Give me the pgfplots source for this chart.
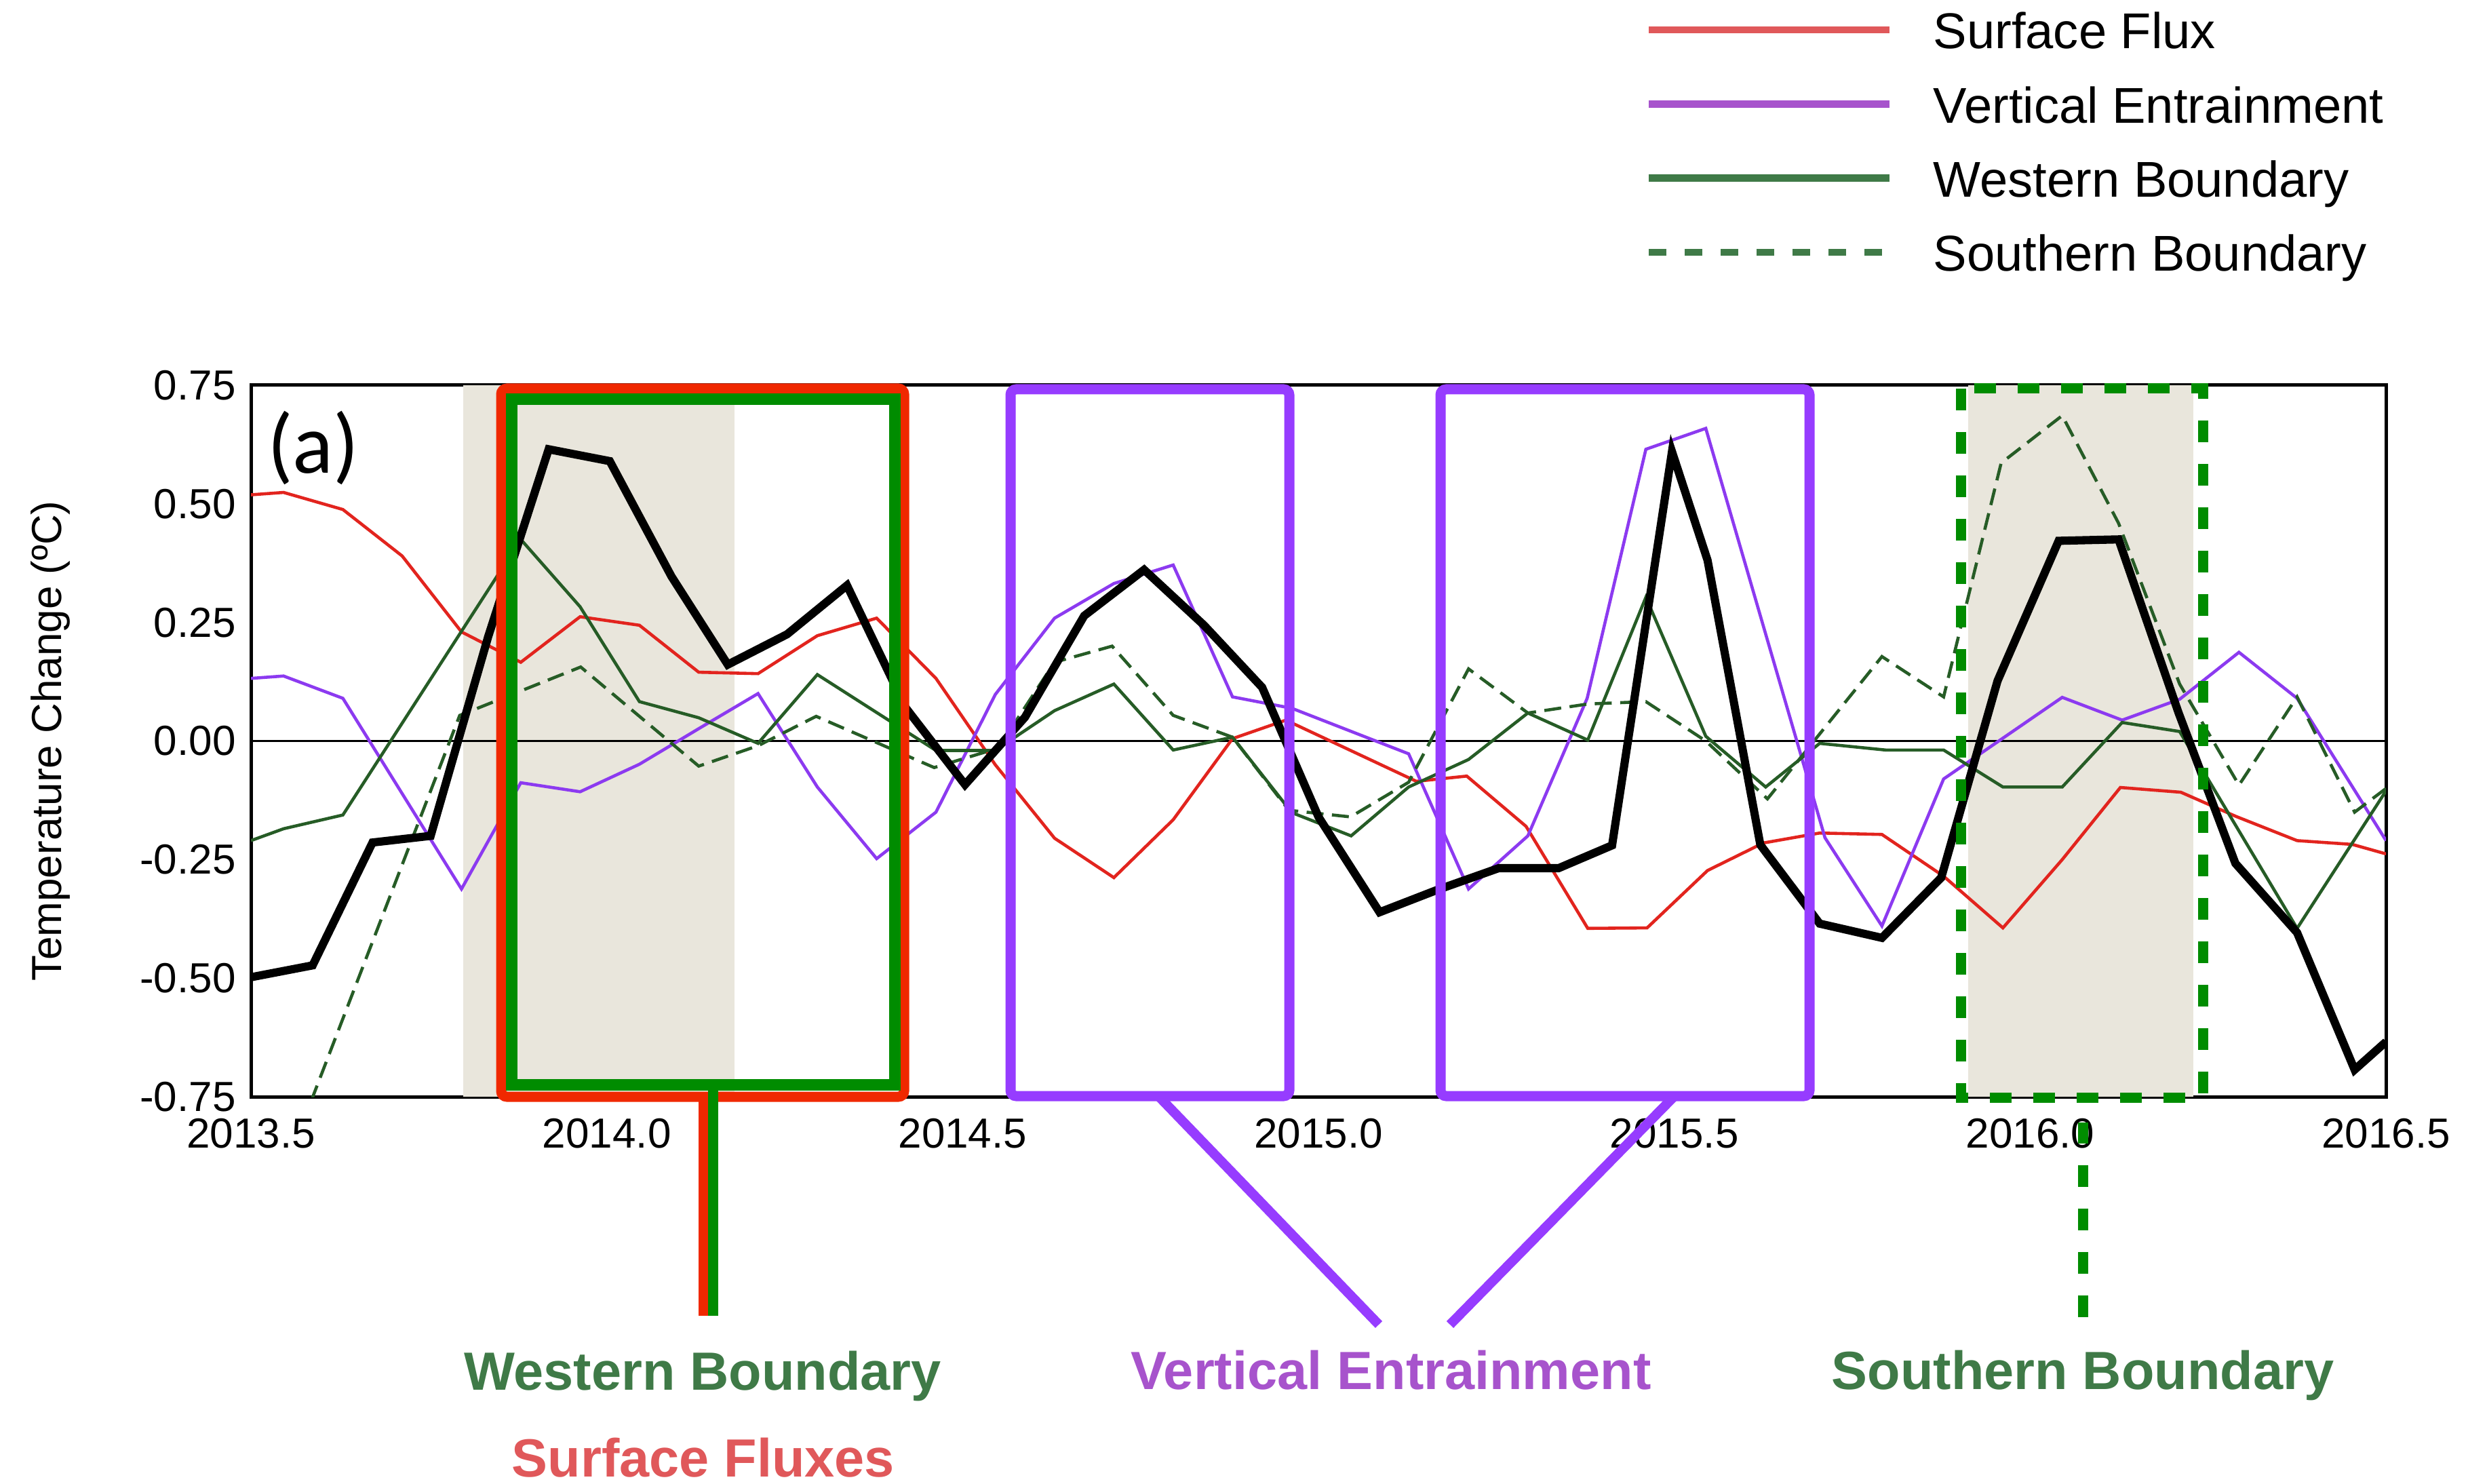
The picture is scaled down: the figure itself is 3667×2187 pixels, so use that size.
\documentclass[border=0pt]{standalone}
\usepackage{fontspec}
\setmainfont{Liberation Sans}
\newfontfamily\calibri{Carlito}
\usepackage{pgfplots}
\pgfplotsset{compat=1.18}

% plot colours
\definecolor{sfline}{RGB}{226,36,30}
\definecolor{veline}{RGB}{140,58,240}
\definecolor{wbline}{RGB}{38,92,38}
\definecolor{shade}{RGB}{233,230,220}
% legend / annotation colours
\definecolor{legred}{RGB}{224,88,90}
\definecolor{legpurple}{RGB}{167,83,204}
\definecolor{leggreen}{RGB}{63,122,71}
\definecolor{boxred}{RGB}{240,40,0}
\definecolor{boxgreen}{RGB}{0,140,0}
\definecolor{boxpurple}{RGB}{150,60,255}

\begin{document}
\begin{tikzpicture}
\begin{axis}[
  at={(0pt,0pt)}, anchor=south west,
  scale only axis, width=377.76pt, height=125.88pt,
  xmin=0, xmax=36, ymin=-0.75, ymax=0.75,
  xtick={0,6,12,18,24,30,36},
  xticklabels={2013.5,2014.0,2014.5,2015.0,2015.5,2016.0,2016.5},
  ytick={-0.75,-0.5,-0.25,0,0.25,0.5,0.75},
  yticklabels={-0.75,-0.50,-0.25,0.00,0.25,0.50,0.75},
  major tick length=0pt,
  tick label style={font=\fontsize{7.44}{8}\selectfont, inner sep=0pt},
  xticklabel style={yshift=-3.6pt},
  yticklabel style={xshift=-2.5pt},
  axis line style={line width=0.6pt},
  ylabel={Temperature Change (ºC)},
  ylabel style={at={(axis description cs:-0.094,0.5)}, anchor=center,
                font=\fontsize{7.44}{8}\selectfont},
]
% shaded periods
\addplot[fill=shade, draw=none, forget plot] coordinates {(3.58,-0.75) (8.15,-0.75) (8.15,0.75) (3.58,0.75)} -- cycle;
\addplot[fill=shade, draw=none, forget plot] coordinates {(28.95,-0.75) (32.75,-0.75) (32.75,0.75) (28.95,0.75)} -- cycle;
% zero line
\addplot[black, line width=0.4pt, forget plot] coordinates {(0,0) (36,0)};

% surface flux
\addplot[sfline, line width=0.55pt] coordinates {
 (0,0.519) (0.55,0.524) (1.55,0.488) (2.55,0.39) (3.55,0.23) (4.55,0.166)
 (5.55,0.262) (6.55,0.244) (7.55,0.145) (8.55,0.142) (9.55,0.222) (10.55,0.259)
 (11.55,0.132) (12.55,-0.05) (13.55,-0.205) (14.55,-0.288) (15.55,-0.166)
 (16.55,0.005) (17.45,0.044) (19.65,-0.085) (20.5,-0.074) (21.5,-0.18)
 (22.54,-0.395) (23.54,-0.394) (24.56,-0.273) (25.5,-0.215) (26.45,-0.194)
 (27.5,-0.197) (28.54,-0.285) (29.54,-0.394) (30.54,-0.25) (31.52,-0.098)
 (32.54,-0.108) (33.47,-0.159) (34.5,-0.21) (35.43,-0.218) (36,-0.238)};
% vertical entrainment
\addplot[veline, line width=0.55pt] coordinates {
 (0,0.132) (0.55,0.137) (1.55,0.09) (3.55,-0.312) (4.55,-0.088) (5.55,-0.107)
 (6.55,-0.049) (7.55,0.026) (8.55,0.10) (9.55,-0.097) (10.55,-0.248)
 (11.55,-0.15) (12.55,0.098) (13.55,0.259) (14.55,0.332) (15.55,0.371)
 (16.55,0.093) (17.55,0.069) (19.52,-0.027) (20.53,-0.312) (21.53,-0.2)
 (22.53,0.09) (23.52,0.615) (24.53,0.659) (26.54,-0.204) (27.5,-0.39)
 (28.54,-0.08) (30.54,0.092) (31.55,0.044) (32.52,0.088) (33.52,0.187)
 (34.5,0.09) (36,-0.21)};
% western boundary
\addplot[wbline, line width=0.55pt] coordinates {
 (0,-0.21) (0.55,-0.185) (1.55,-0.156) (4.55,0.425) (5.55,0.283) (6.55,0.083)
 (7.55,0.049) (8.55,-0.005) (9.55,0.14) (10.55,0.06) (11.55,-0.02)
 (12.55,-0.02) (13.55,0.064) (14.55,0.12) (15.55,-0.019) (16.55,0.008)
 (17.55,-0.151) (18.55,-0.2) (19.52,-0.097) (20.53,-0.039) (21.53,0.059)
 (22.54,0.002) (23.52,0.303) (24.53,0.01) (25.54,-0.097) (26.45,-0.005)
 (27.56,-0.019) (28.54,-0.019) (29.54,-0.097) (30.54,-0.097) (31.55,0.039)
 (32.52,0.02) (34.5,-0.395) (36,-0.105)};
% southern boundary
\addplot[wbline, line width=0.55pt, dash pattern=on 3pt off 1.5pt] coordinates {
 (0.55,-0.91) (3.52,0.054) (5.56,0.156) (7.55,-0.053) (8.55,-0.01) (9.53,0.052)
 (11.52,-0.056) (12.6,-0.015) (13.55,0.166) (14.52,0.20) (15.55,0.054)
 (16.55,0.008) (17.5,-0.146) (18.54,-0.16) (19.52,-0.087) (20.53,0.152)
 (21.53,0.059) (22.54,0.078) (23.52,0.083) (24.53,0.0) (25.57,-0.122)
 (27.5,0.178) (28.54,0.093) (29.51,0.586) (30.54,0.686) (31.49,0.459)
 (32.52,0.12) (33.52,-0.093) (34.5,0.093) (35.47,-0.15) (36,-0.1)};
% total
\addplot[black, line width=1.45pt] coordinates {
 (0,-0.498) (1.04,-0.473) (2.05,-0.214) (3.03,-0.20) (4.0,0.22) (5.02,0.615)
 (6.05,0.59) (7.09,0.347) (8.04,0.161) (9.04,0.225) (10.05,0.328) (11.04,0.07)
 (12.04,-0.092) (13.05,0.05) (14.05,0.264) (15.06,0.361) (16.07,0.244)
 (17.05,0.113) (18.0,-0.16) (19.03,-0.361) (20.0,-0.314) (21.04,-0.268)
 (22.05,-0.268) (22.95,-0.22) (23.96,0.61) (24.56,0.381) (25.45,-0.219)
 (26.45,-0.385) (27.5,-0.415) (28.5,-0.288) (29.45,0.127) (30.48,0.422)
 (31.49,0.425) (32.5,0.06) (33.46,-0.258) (34.5,-0.404) (35.47,-0.693)
 (36,-0.634)};

\node[font=\calibri\fontsize{15}{16}\selectfont] at (axis description cs:0.0292,0.912) {(a)};
\end{axis}

% annotations, in pixels of the 3667 x 2187 canvas
\begin{scope}[shift={(-44.4pt,194.04pt)}, x=0.12pt, y=-0.12pt]
  % western boundary / surface fluxes
  \draw[boxred, line width=1.8pt, rounded corners=1pt] (739,573) rectangle (1333,1617);
  \draw[boxgreen, line width=2.04pt] (754,589) rectangle (1319,1599);
  \draw[boxred, line width=1.68pt] (1037,1617) -- (1037,1940);
  \draw[boxgreen, line width=1.8pt] (1051,1599) -- (1051,1940);
  % vertical entrainment
  \draw[boxpurple, line width=1.8pt, rounded corners=1pt] (1490,574) rectangle (1901,1616);
  \draw[boxpurple, line width=1.8pt, rounded corners=1pt] (2124,574) rectangle (2668,1616);
  \draw[boxpurple, line width=1.7pt] (1708,1616) -- (2033,1953);
  \draw[boxpurple, line width=1.7pt] (2469,1616) -- (2138,1953);
  % southern boundary
  \draw[boxgreen, line width=1.8pt, dash pattern=on 3.84pt off 3.84pt] (2891,573) rectangle (3248,1618);
  \draw[boxgreen, line width=1.8pt, dash pattern=on 3.84pt off 3.84pt] (3071,1942) -- (3071,1655);

  \begin{scope}[font=\bfseries\fontsize{9.52}{11}\selectfont]
    \node[anchor=base, text=leggreen] at (1036,2049) {Western Boundary};
    \node[anchor=base, text=legred] at (1037,2177) {Surface Fluxes};
    \node[anchor=base, text=legpurple] at (2051,2048) {Vertical Entrainment};
    \node[anchor=base, text=leggreen] at (3071,2048) {Southern Boundary};
  \end{scope}

  % legend
  \begin{scope}[font=\fontsize{8.9}{10}\selectfont, every node/.style={inner sep=0pt, anchor=base west}]
    \draw[legred, line width=1.25pt] (2431,44) -- (2786,44);
    \node at (2849,72) {Surface Flux};
    \draw[legpurple, line width=1.25pt] (2431,153.5) -- (2786,153.5);
    \node at (2849,181.5) {Vertical Entrainment};
    \draw[leggreen, line width=1.25pt] (2431,262.5) -- (2786,262.5);
    \node at (2849,290.5) {Western Boundary};
    \draw[leggreen, line width=1.25pt, dash pattern=on 3.12pt off 3.24pt] (2431,372) -- (2786,372);
    \node at (2849,400) {Southern Boundary};
  \end{scope}

  \pgfresetboundingbox
  \useasboundingbox (0,0) rectangle (3667,2187);
\end{scope}
\end{tikzpicture}
\end{document}
